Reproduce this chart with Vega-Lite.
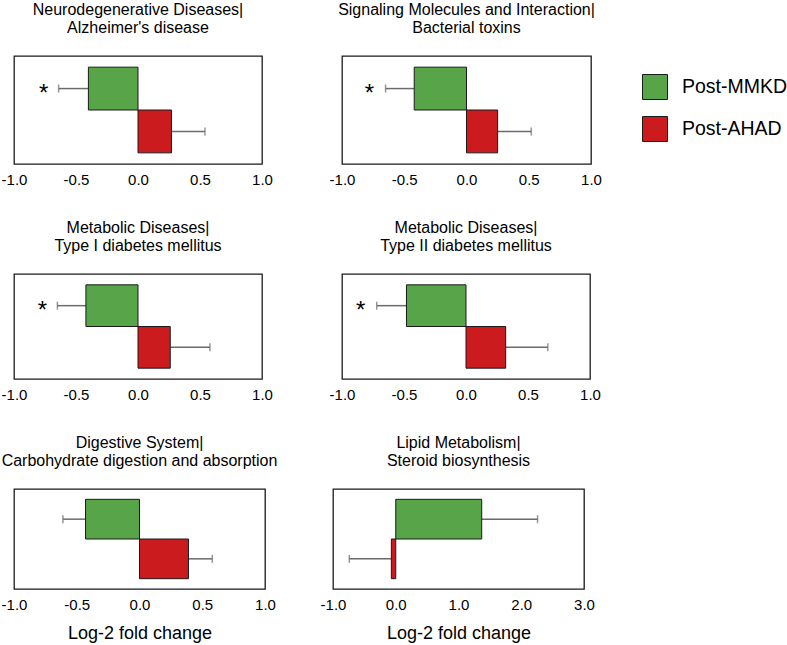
{
  "$schema": "https://vega.github.io/schema/vega-lite/v6.json",
  "padding": {"left": 0, "top": 1, "right": 0, "bottom": 0},
  "background": "white",
  "config": {
    "font": "Liberation Sans",
    "view": {"stroke": "#1a1a1a", "strokeWidth": 1.3},
    "axisX": {"domain": false, "ticks": false, "grid": false, "labelFontSize": 15, "labelColor": "#000", "labelPadding": 8, "labelFlush": false, "labelOverlap": false, "labelExpr": "replace(datum.label, '−', '-')", "titleFontSize": 18, "titleFontWeight": "normal", "titleColor": "#000", "titlePadding": 12},
    "title": {"fontSize": 16, "fontWeight": "normal", "color": "#000", "lineHeight": 18, "offset": 20, "anchor": "middle"}
  },
  "datasets": {
    "d": [
      {"panel": "P1", "group": "Post-MMKD", "value": -0.40, "err": -0.64, "star": -0.76},
      {"panel": "P1", "group": "Post-AHAD", "value": 0.27, "err": 0.54, "star": null},
      {"panel": "P2", "group": "Post-MMKD", "value": -0.42, "err": -0.65, "star": -0.78},
      {"panel": "P2", "group": "Post-AHAD", "value": 0.25, "err": 0.52, "star": null},
      {"panel": "P3", "group": "Post-MMKD", "value": -0.42, "err": -0.65, "star": -0.77},
      {"panel": "P3", "group": "Post-AHAD", "value": 0.26, "err": 0.58, "star": null},
      {"panel": "P4", "group": "Post-MMKD", "value": -0.48, "err": -0.72, "star": -0.85},
      {"panel": "P4", "group": "Post-AHAD", "value": 0.32, "err": 0.66, "star": null},
      {"panel": "P5", "group": "Post-MMKD", "value": -0.43, "err": -0.61, "star": null},
      {"panel": "P5", "group": "Post-AHAD", "value": 0.39, "err": 0.58, "star": null},
      {"panel": "P6", "group": "Post-MMKD", "value": 1.37, "err": 2.26, "star": null},
      {"panel": "P6", "group": "Post-AHAD", "value": -0.07, "err": -0.74, "star": null}
    ]
  },
  "resolve": {"scale": {"color": "independent"}, "legend": {"color": "independent"}},
  "spacing": 31,
  "vconcat": [
    {
      "bounds": "flush",
      "spacing": 80,
      "resolve": {"scale": {"color": "independent"}, "legend": {"color": "independent"}},
      "hconcat": [
        {
          "width": 248, "height": 108,
          "title": {"text": ["Neurodegenerative Diseases|", "Alzheimer's disease"]},
          "data": {"name": "d"},
          "transform": [{"filter": "datum.panel === 'P1'"}],
          "encoding": {"y": {"field": "group", "type": "nominal", "sort": ["Post-MMKD", "Post-AHAD"], "axis": null, "scale": {"paddingInner": 0, "paddingOuter": 0.26}}},
          "layer": [
            {"mark": {"type": "rule", "color": "#6b6b6b", "strokeWidth": 1.5}, "encoding": {"x": {"field": "value", "type": "quantitative", "scale": {"domain": [-1, 1]}, "axis": {"values": [-1, -0.5, 0, 0.5, 1], "format": ".1f", "title": null}}, "x2": {"field": "err"}}},
            {"mark": {"type": "tick", "orient": "vertical", "size": 8, "thickness": 1.5, "color": "#6b6b6b"}, "encoding": {"x": {"field": "err", "type": "quantitative"}}},
            {"mark": {"type": "bar", "stroke": "#1a1a1a", "strokeWidth": 1}, "encoding": {"x": {"field": "value", "type": "quantitative"}, "x2": {"datum": 0}, "color": {"field": "group", "type": "nominal", "scale": {"domain": ["Post-MMKD", "Post-AHAD"], "range": ["#57a548", "#cc1b1e"]}, "legend": null}}},
            {"mark": {"type": "text", "text": "*", "fontSize": 24, "baseline": "alphabetic", "dy": 12, "color": "#000"}, "transform": [{"filter": "datum.star != null"}], "encoding": {"x": {"field": "star", "type": "quantitative"}}}
          ]
        },
        {
          "width": 249, "height": 108,
          "title": {"text": ["Signaling Molecules and Interaction|", "Bacterial toxins"]},
          "data": {"name": "d"},
          "transform": [{"filter": "datum.panel === 'P2'"}],
          "encoding": {"y": {"field": "group", "type": "nominal", "sort": ["Post-MMKD", "Post-AHAD"], "axis": null, "scale": {"paddingInner": 0, "paddingOuter": 0.26}}},
          "layer": [
            {"mark": {"type": "rule", "color": "#6b6b6b", "strokeWidth": 1.5}, "encoding": {"x": {"field": "value", "type": "quantitative", "scale": {"domain": [-1, 1]}, "axis": {"values": [-1, -0.5, 0, 0.5, 1], "format": ".1f", "title": null}}, "x2": {"field": "err"}}},
            {"mark": {"type": "tick", "orient": "vertical", "size": 8, "thickness": 1.5, "color": "#6b6b6b"}, "encoding": {"x": {"field": "err", "type": "quantitative"}}},
            {"mark": {"type": "bar", "stroke": "#1a1a1a", "strokeWidth": 1}, "encoding": {"x": {"field": "value", "type": "quantitative"}, "x2": {"datum": 0}, "color": {"field": "group", "type": "nominal", "scale": {"domain": ["Post-MMKD", "Post-AHAD"], "range": ["#57a548", "#cc1b1e"]}, "legend": {"orient": "none", "legendX": 300, "legendY": 18, "title": null, "symbolType": "square", "symbolSize": 625, "symbolStrokeColor": "#1a1a1a", "symbolStrokeWidth": 1, "symbolOpacity": 1, "labelFontSize": 19.5, "labelColor": "#000", "labelOffset": 14, "rowPadding": 12, "padding": 0}}}},
            {"mark": {"type": "text", "text": "*", "fontSize": 24, "baseline": "alphabetic", "dy": 12, "color": "#000"}, "transform": [{"filter": "datum.star != null"}], "encoding": {"x": {"field": "star", "type": "quantitative"}}}
          ]
        }
      ]
    },
    {
      "bounds": "flush",
      "spacing": 80,
      "resolve": {"scale": {"color": "independent"}, "legend": {"color": "independent"}},
      "hconcat": [
        {
          "width": 248, "height": 105,
          "title": {"text": ["Metabolic Diseases|", "Type I diabetes mellitus"]},
          "data": {"name": "d"},
          "transform": [{"filter": "datum.panel === 'P3'"}],
          "encoding": {"y": {"field": "group", "type": "nominal", "sort": ["Post-MMKD", "Post-AHAD"], "axis": null, "scale": {"paddingInner": 0, "paddingOuter": 0.26}}},
          "layer": [
            {"mark": {"type": "rule", "color": "#6b6b6b", "strokeWidth": 1.5}, "encoding": {"x": {"field": "value", "type": "quantitative", "scale": {"domain": [-1, 1]}, "axis": {"values": [-1, -0.5, 0, 0.5, 1], "format": ".1f", "title": null}}, "x2": {"field": "err"}}},
            {"mark": {"type": "tick", "orient": "vertical", "size": 8, "thickness": 1.5, "color": "#6b6b6b"}, "encoding": {"x": {"field": "err", "type": "quantitative"}}},
            {"mark": {"type": "bar", "stroke": "#1a1a1a", "strokeWidth": 1}, "encoding": {"x": {"field": "value", "type": "quantitative"}, "x2": {"datum": 0}, "color": {"field": "group", "type": "nominal", "scale": {"domain": ["Post-MMKD", "Post-AHAD"], "range": ["#57a548", "#cc1b1e"]}, "legend": null}}},
            {"mark": {"type": "text", "text": "*", "fontSize": 24, "baseline": "alphabetic", "dy": 12, "color": "#000"}, "transform": [{"filter": "datum.star != null"}], "encoding": {"x": {"field": "star", "type": "quantitative"}}}
          ]
        },
        {
          "width": 248, "height": 105,
          "title": {"text": ["Metabolic Diseases|", "Type II diabetes mellitus"]},
          "data": {"name": "d"},
          "transform": [{"filter": "datum.panel === 'P4'"}],
          "encoding": {"y": {"field": "group", "type": "nominal", "sort": ["Post-MMKD", "Post-AHAD"], "axis": null, "scale": {"paddingInner": 0, "paddingOuter": 0.26}}},
          "layer": [
            {"mark": {"type": "rule", "color": "#6b6b6b", "strokeWidth": 1.5}, "encoding": {"x": {"field": "value", "type": "quantitative", "scale": {"domain": [-1, 1]}, "axis": {"values": [-1, -0.5, 0, 0.5, 1], "format": ".1f", "title": null}}, "x2": {"field": "err"}}},
            {"mark": {"type": "tick", "orient": "vertical", "size": 8, "thickness": 1.5, "color": "#6b6b6b"}, "encoding": {"x": {"field": "err", "type": "quantitative"}}},
            {"mark": {"type": "bar", "stroke": "#1a1a1a", "strokeWidth": 1}, "encoding": {"x": {"field": "value", "type": "quantitative"}, "x2": {"datum": 0}, "color": {"field": "group", "type": "nominal", "scale": {"domain": ["Post-MMKD", "Post-AHAD"], "range": ["#57a548", "#cc1b1e"]}, "legend": null}}},
            {"mark": {"type": "text", "text": "*", "fontSize": 24, "baseline": "alphabetic", "dy": 12, "color": "#000"}, "transform": [{"filter": "datum.star != null"}], "encoding": {"x": {"field": "star", "type": "quantitative"}}}
          ]
        }
      ]
    },
    {
      "bounds": "flush",
      "spacing": 68,
      "resolve": {"scale": {"color": "independent"}, "legend": {"color": "independent"}},
      "hconcat": [
        {
          "width": 251, "height": 100,
          "title": {"text": ["Digestive System|", "Carbohydrate digestion and absorption"]},
          "data": {"name": "d"},
          "transform": [{"filter": "datum.panel === 'P5'"}],
          "encoding": {"y": {"field": "group", "type": "nominal", "sort": ["Post-MMKD", "Post-AHAD"], "axis": null, "scale": {"paddingInner": 0, "paddingOuter": 0.26}}},
          "layer": [
            {"mark": {"type": "rule", "color": "#6b6b6b", "strokeWidth": 1.5}, "encoding": {"x": {"field": "value", "type": "quantitative", "scale": {"domain": [-1, 1]}, "axis": {"values": [-1, -0.5, 0, 0.5, 1], "format": ".1f", "title": "Log-2 fold change"}}, "x2": {"field": "err"}}},
            {"mark": {"type": "tick", "orient": "vertical", "size": 8, "thickness": 1.5, "color": "#6b6b6b"}, "encoding": {"x": {"field": "err", "type": "quantitative"}}},
            {"mark": {"type": "bar", "stroke": "#1a1a1a", "strokeWidth": 1}, "encoding": {"x": {"field": "value", "type": "quantitative"}, "x2": {"datum": 0}, "color": {"field": "group", "type": "nominal", "scale": {"domain": ["Post-MMKD", "Post-AHAD"], "range": ["#57a548", "#cc1b1e"]}, "legend": null}}}
          ]
        },
        {
          "width": 251, "height": 100,
          "title": {"text": ["Lipid Metabolism|", "Steroid biosynthesis"]},
          "data": {"name": "d"},
          "transform": [{"filter": "datum.panel === 'P6'"}],
          "encoding": {"y": {"field": "group", "type": "nominal", "sort": ["Post-MMKD", "Post-AHAD"], "axis": null, "scale": {"paddingInner": 0, "paddingOuter": 0.26}}},
          "layer": [
            {"mark": {"type": "rule", "color": "#6b6b6b", "strokeWidth": 1.5}, "encoding": {"x": {"field": "value", "type": "quantitative", "scale": {"domain": [-1, 3]}, "axis": {"values": [-1, 0, 1, 2, 3], "format": ".1f", "title": "Log-2 fold change"}}, "x2": {"field": "err"}}},
            {"mark": {"type": "tick", "orient": "vertical", "size": 8, "thickness": 1.5, "color": "#6b6b6b"}, "encoding": {"x": {"field": "err", "type": "quantitative"}}},
            {"mark": {"type": "bar", "stroke": "#1a1a1a", "strokeWidth": 1}, "encoding": {"x": {"field": "value", "type": "quantitative"}, "x2": {"datum": 0}, "color": {"field": "group", "type": "nominal", "scale": {"domain": ["Post-MMKD", "Post-AHAD"], "range": ["#57a548", "#cc1b1e"]}, "legend": null}}}
          ]
        }
      ]
    }
  ]
}
